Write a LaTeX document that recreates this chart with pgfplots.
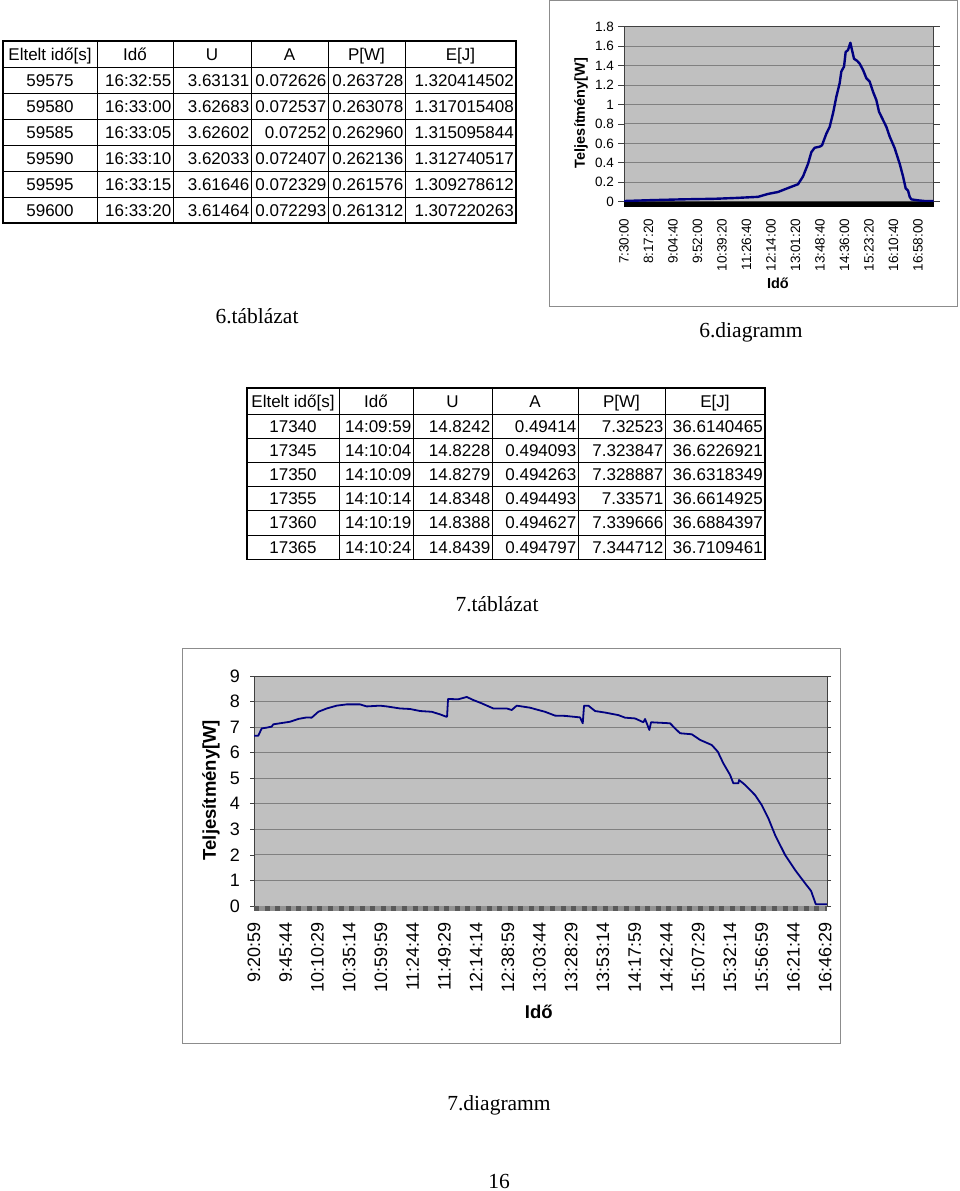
\documentclass[border=0pt]{standalone}
\usepackage{pgfplots}
\pgfplotsset{compat=1.18}
\usepackage{fontspec}
\setmainfont{Liberation Sans}
\newfontfamily\timesfont{Liberation Serif}
\definecolor{plotbg}{HTML}{C0C0C0}
\definecolor{gridc}{HTML}{808080}
\definecolor{navyline}{HTML}{000080}
\definecolor{framec}{HTML}{8C8C8C}
\newcommand{\fs}[1]{\fontsize{#1}{#1}\selectfont}
\begin{document}
\begin{tikzpicture}
\begin{scope}[x=1pt,y=-1pt]
\path (0,0) rectangle (960,1191);
% ---------- table 6 ----------
\draw[line width=1.3pt] (3,41) rectangle (516,223);
\foreach \y in {67,93,119,145,171,197} \draw[line width=0.9pt] (3,\y)--(516,\y);
\foreach \x in {97,173,251,328,405} \draw[line width=0.9pt] (\x,41)--(\x,223);
\begin{scope}[every node/.style={inner sep=0pt,font=\fs{17}}]
\node[anchor=base] at (50,60.2) {Eltelt idő[s]};
\node[anchor=base] at (135,60.2) {Idő};
\node[anchor=base] at (212,60.2) {U};
\node[anchor=base] at (289.5,60.2) {A};
\node[anchor=base] at (366.5,60.2) {P[W]};
\node[anchor=base] at (460.5,60.2) {E[J]};
\foreach \yb/\a/\b/\c/\d/\e/\f in {
 86.2/59575/16:32:55/3.63131/0.072626/0.263728/1.320414502,
 112.2/59580/16:33:00/3.62683/0.072537/0.263078/1.317015408,
 138.2/59585/16:33:05/3.62602/0.07252/0.262960/1.315095844,
 164.2/59590/16:33:10/3.62033/0.072407/0.262136/1.312740517,
 190.2/59595/16:33:15/3.61646/0.072329/0.261576/1.309278612,
 216.2/59600/16:33:20/3.61464/0.072293/0.261312/1.307220263}{
 \node[anchor=base] at (50,\yb) {\a};
 \node[anchor=base east] at (171.5,\yb) {\b};
 \node[anchor=base east] at (249.5,\yb) {\c};
 \node[anchor=base east] at (326.5,\yb) {\d};
 \node[anchor=base east] at (403.5,\yb) {\e};
 \node[anchor=base east] at (514,\yb) {\f};
}
\end{scope}
% ---------- table 7 ----------
\draw[line width=1.3pt] (247,388) rectangle (765,559.5);
\foreach \y in {414,438,462,486.5,510.5,535} \draw[line width=0.9pt] (247,\y)--(765,\y);
\foreach \x in {339,413,492,578,665} \draw[line width=0.9pt] (\x,388)--(\x,559.5);
\begin{scope}[every node/.style={inner sep=0pt,font=\fs{17}}]
\node[anchor=base] at (293,407.2) {Eltelt idő[s]};
\node[anchor=base] at (376,407.2) {Idő};
\node[anchor=base] at (452.5,407.2) {U};
\node[anchor=base] at (535,407.2) {A};
\node[anchor=base] at (621.5,407.2) {P[W]};
\node[anchor=base] at (715,407.2) {E[J]};
\foreach \yb/\a/\b/\c/\d/\e/\f in {
 432.2/17340/14:09:59/14.8242/0.49414/7.32523/36.6140465,
 456.2/17345/14:10:04/14.8228/0.494093/7.323847/36.6226921,
 480.4/17350/14:10:09/14.8279/0.494263/7.328887/36.6318349,
 504.6/17355/14:10:14/14.8348/0.494493/7.33571/36.6614925,
 528.9/17360/14:10:19/14.8388/0.494627/7.339666/36.6884397,
 553.4/17365/14:10:24/14.8439/0.494797/7.344712/36.7109461}{
 \node[anchor=base] at (293,\yb) {\a};
 \node[anchor=base east] at (411.5,\yb) {\b};
 \node[anchor=base east] at (490.5,\yb) {\c};
 \node[anchor=base east] at (576.5,\yb) {\d};
 \node[anchor=base east] at (663.5,\yb) {\e};
 \node[anchor=base east] at (763,\yb) {\f};
}
\end{scope}
% ---------- captions ----------
\begin{scope}[every node/.style={inner sep=0pt,font=\timesfont\fs{21.5}}]
\node[anchor=base] at (257,323) {6.táblázat};
\node[anchor=base] at (751,337) {6.diagramm};
\node[anchor=base] at (497,611) {7.táblázat};
\node[anchor=base] at (499,1110) {7.diagramm};
\node[anchor=base] at (499,1188) {16};
\end{scope}
% ---------- chart frames ----------
\draw[framec, line width=1pt] (549,0.5) rectangle (957.5,306);
\draw[framec, line width=1pt] (182,648) rectangle (840,1043);
\end{scope}

% ---------- chart 6 ----------
\begin{axis}[name=axA,
 at={(624pt,-201.7pt)}, anchor=south west, scale only axis,
 width=309.7pt, height=175pt,
 xmin=7.5, xmax=17.471, ymin=0, ymax=1.8,
 axis background/.style={fill=plotbg},
 axis line style={gridc!50!black, line width=0.8pt},
 ytick={0,0.2,0.4,0.6,0.8,1,1.2,1.4,1.6,1.8},
 yticklabels={0,0.2,0.4,0.6,0.8,1,1.2,1.4,1.6,1.8},
 ymajorgrids, grid style={gridc, line width=0.9pt},
 xtick={7.5,8.28889,9.07778,9.86667,10.65556,11.44444,12.23333,13.02222,13.81111,14.6,15.38889,16.17778,16.96667},
 xticklabels={7:30:00,8:17:20,9:04:40,9:52:00,10:39:20,11:26:40,12:14:00,13:01:20,13:48:40,14:36:00,15:23:20,16:10:40,16:58:00},
 xticklabel style={rotate=90, anchor=east, inner sep=0pt},
 yticklabel style={anchor=east, inner sep=0pt},
 xticklabel shift=11pt, yticklabel shift=4pt,
 x tick style={draw=none},
 y tick style={gridc!50!black, line width=0.8pt},
 tick align=outside, major tick length=6pt,
 tick label style={font=\fs{13.5}},
 /pgf/number format/assume math mode=true,
 xlabel={\bfseries Idő}, ylabel={\bfseries Teljesítmény[W]},
 label style={font=\fs{14.5}},
 xlabel style={at={(rel axis cs:0.497,-0.4646)}, anchor=center},
 ylabel style={at={(rel axis cs:-0.1388,0.507)}, anchor=center, rotate=0},
]
\addplot[navyline, line width=2.4pt, line join=round] coordinates {
(7.5,0.007) (8.273,0.015) (9.346,0.024) (10.419,0.030) (11.063,0.038) (11.815,0.050)
(12.137,0.080) (12.459,0.100) (12.673,0.127) (13.103,0.180) (13.264,0.260) (13.425,0.390)
(13.532,0.510) (13.639,0.555) (13.800,0.566) (13.875,0.580) (14.015,0.700) (14.122,0.770)
(14.230,0.910) (14.337,1.080) (14.444,1.220) (14.498,1.340) (14.584,1.390) (14.637,1.540)
(14.713,1.560) (14.788,1.635) (14.841,1.560) (14.906,1.470) (15.002,1.450) (15.088,1.420)
(15.196,1.355) (15.303,1.270) (15.410,1.235) (15.518,1.130) (15.625,1.045) (15.711,0.925)
(15.840,0.840) (15.947,0.770) (16.054,0.670) (16.215,0.550) (16.376,0.390) (16.484,0.260)
(16.569,0.137) (16.645,0.113) (16.698,0.050) (16.752,0.024) (16.966,0.014) (17.181,0.007)
(17.471,0.007)};
\end{axis}
\draw[black, line width=5pt] ([yshift=-2.5pt]axA.south west) -- ([yshift=-2.5pt]axA.south east);

% ---------- chart 7 ----------
\begin{axis}[name=axB,
 at={(254pt,-906pt)}, anchor=south west, scale only axis,
 width=573pt, height=230pt,
 xmin=9.34972, xmax=16.80, ymin=0, ymax=9,
 axis background/.style={fill=plotbg},
 axis line style={gridc!50!black, line width=0.8pt},
 ytick={0,1,2,3,4,5,6,7,8,9},
 ymajorgrids, grid style={gridc, line width=0.9pt},
 xtick={9.34972,9.76222,10.17472,10.58722,10.99972,11.41222,11.82472,12.23722,12.64972,13.06222,13.47472,13.88722,14.29972,14.71222,15.12472,15.53722,15.94972,16.36222,16.77472},
 xticklabels={9:20:59,9:45:44,10:10:29,10:35:14,10:59:59,11:24:44,11:49:29,12:14:14,12:38:59,13:03:44,13:28:29,13:53:14,14:17:59,14:42:44,15:07:29,15:32:14,15:56:59,16:21:44,16:46:29},
 xticklabel style={rotate=90, anchor=east, inner sep=0pt},
 yticklabel style={anchor=east, inner sep=0pt},
 xticklabel shift=12pt, yticklabel shift=10pt,
 x tick style={draw=none},
 y tick style={gridc!50!black, line width=0.8pt},
 tick align=outside, major tick length=4pt,
 tick label style={font=\fs{18}},
 /pgf/number format/assume math mode=true,
 xlabel={\bfseries Idő}, ylabel={\bfseries Teljesítmény[W]},
 label style={font=\fs{18.5}},
 xlabel style={at={(rel axis cs:0.497,-0.461)}, anchor=center},
 ylabel style={at={(rel axis cs:-0.075,0.504)}, anchor=center, rotate=0},
]
\addplot[navyline, line width=1.8pt, line join=round] coordinates {
(9.3497,6.665) (9.4056,6.665) (9.4498,6.95) (9.5149,6.98) (9.5799,7.02) (9.6007,7.11)
(9.6878,7.15) (9.8178,7.21) (9.9258,7.32) (10.0350,7.38) (10.1000,7.37) (10.1859,7.60)
(10.2951,7.73) (10.4251,7.84) (10.5552,7.89) (10.7281,7.89) (10.8152,7.81) (10.9882,7.84)
(11.0753,7.81) (11.2483,7.73) (11.3783,7.71) (11.5084,7.63) (11.6605,7.60) (11.7684,7.50)
(11.8465,7.41) (11.8600,7.41) (11.8725,8.10) (12.0064,8.09) (12.1157,8.18) (12.2015,8.06)
(12.3107,7.93) (12.4616,7.73) (12.6358,7.73) (12.7008,7.67) (12.7659,7.84) (12.9388,7.76)
(13.0467,7.67) (13.1339,7.60) (13.2639,7.45) (13.3939,7.44) (13.5890,7.38) (13.6241,7.15)
(13.6410,7.84) (13.6969,7.84) (13.7841,7.63) (13.9141,7.57) (14.0871,7.47) (14.1742,7.37)
(14.3042,7.34) (14.4122,7.19) (14.4343,7.32) (14.4902,6.89) (14.5123,7.19) (14.7594,7.15)
(14.8244,6.95) (14.8894,6.76) (15.0416,6.72) (15.1495,6.50) (15.3016,6.30) (15.3797,6.04)
(15.4525,5.58) (15.5396,5.13) (15.5825,4.80) (15.6475,4.80) (15.6566,4.93) (15.7347,4.74)
(15.8647,4.34) (15.9518,3.95) (16.0376,3.43) (16.1248,2.78) (16.2548,2.00) (16.3849,1.41)
(16.5149,0.89) (16.5929,0.59) (16.6541,0.07) (16.7971,0.07)};
\end{axis}
\draw[color=gridc!85, line width=5pt] ([yshift=-2.6pt]axB.south west) -- ([yshift=-2.6pt]axB.south east);
\draw[color=gridc!70!black, line width=5pt, dash pattern=on 5pt off 5.57pt] ([yshift=-2.6pt]axB.south west) -- ([yshift=-2.6pt]axB.south east);
\end{tikzpicture}
\end{document}
